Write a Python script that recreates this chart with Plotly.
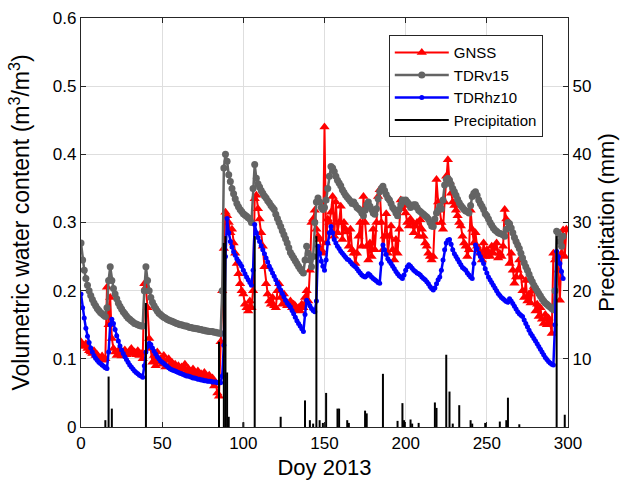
import plotly.graph_objects as go

# ---------------- data ----------------
gnss_vwc = [
    .125, .120, .118, .122, .115, .112, .110, .108, .112, .105,
    .106, .102, .100, .104, .098, .100, .205, .150, .190, .130,
    .115, .110, .105, .112, .108, .104, .110, .113, .106, .108,
    .112, .115, .108, .110, .106, .112, .105, .108, .100, .210,
    .205, .175, .130, .115, .095, .105, .090, .110, .095, .100,
    .092, .105, .088, .098, .100, .090, .095, .087, .092, .085,
    .090, .082, .088, .085, .092, .080, .086, .083, .078, .085,
    .080, .076, .082, .075, .078, .072, .080, .074, .070, .076,
    .068, .072, .060, .065, .050, .045, .125, .200, .262, .315,
    .310, .300, .285, .290, .270, .255, .240, .225, .210, .200,
    .195, .180, .175, .170, .185, .175, .200, .335, .340, .320,
    .305, .285, .265, .235, .210, .195, .185, .180, .190, .178,
    .175, .200, .210, .190, .180, .195, .185, .178, .180, .185,
    .175, .180, .178, .172, .175, .170, .180, .175, .190, .200,
    .185, .230, .300, .305, .318, .290, .280, .275, .260, .255,
    .440, .270, .305, .300, .315, .338, .280, .330, .285, .300,
    .324, .275, .300, .290, .286, .265, .290, .260, .255, .240,
    .255, .280, .300, .265, .338, .300, .265, .245, .270, .250,
    .290, .260, .300, .338, .348, .300, .260, .280, .313, .255,
    .280, .295, .260, .245, .275, .255, .290, .333, .320, .325,
    .314, .300, .295, .305, .300, .285, .295, .300, .280, .304,
    .290, .280, .270, .265, .255, .250, .245, .250, .300, .363,
    .330, .318, .300, .290, .330, .368, .392, .360, .343, .330,
    .325, .318, .310, .300, .295, .280, .270, .265, .250, .260,
    .318, .290, .270, .285, .265, .260, .255, .245, .270, .250,
    .260, .255, .250, .265, .255, .262, .270, .248, .255, .250,
    .265, .319, .305, .300, .240, .255, .230, .211, .220, .230,
    .245, .220, .200, .190, .215, .185, .195, .182, .200, .206,
    .170, .180, .162, .175, .158, .152, .165, .150, .160, .152,
    .137, .255, .245, .250, .230, .186, .255, .289, .250, .290,
]

tdrv15_vwc = [
    .270, .245, .230, .218, .208, .200, .193, .187, .182, .178,
    .174, .171, .168, .166, .164, .162, .175, .215, .235, .215,
    .203, .195, .188, .182, .177, .173, .169, .166, .163, .160,
    .158, .156, .154, .152, .151, .150, .149, .148, .148, .200,
    .235, .215, .200, .190, .183, .178, .174, .170, .167, .165,
    .163, .161, .160, .158, .157, .156, .155, .154, .153, .152,
    .151, .150, .150, .149, .148, .148, .147, .146, .146, .145,
    .145, .144, .144, .143, .143, .142, .142, .141, .141, .140,
    .140, .140, .139, .139, .138, .138, .137, .200, .380, .400,
    .390, .370, .360, .350, .342, .335, .328, .323, .319, .316,
    .313, .311, .309, .307, .305, .300, .350, .385, .365, .357,
    .352, .347, .343, .339, .336, .332, .329, .325, .322, .319,
    .312, .306, .300, .294, .288, .282, .276, .270, .263, .256,
    .252, .248, .244, .240, .236, .232, .229, .226, .245, .265,
    .255, .245, .235, .250, .300, .330, .336, .330, .322, .319,
    .322, .333, .350, .368, .382, .380, .375, .368, .362, .358,
    .354, .348, .344, .340, .337, .334, .331, .328, .330, .326,
    .322, .320, .318, .314, .310, .318, .326, .330, .324, .319,
    .314, .312, .320, .335, .345, .350, .353, .347, .341, .336,
    .333, .328, .322, .319, .314, .310, .319, .326, .333, .331,
    .333, .330, .327, .322, .324, .326, .326, .322, .318, .316,
    .314, .312, .310, .308, .305, .300, .295, .294, .305, .314,
    .318, .324, .320, .333, .355, .363, .365, .362, .356, .350,
    .345, .340, .334, .329, .325, .322, .319, .317, .316, .314,
    .325, .338, .343, .345, .340, .333, .328, .324, .319, .313,
    .310, .305, .300, .296, .292, .289, .287, .285, .284, .283,
    .282, .280, .290, .300, .298, .292, .285, .278, .272, .267,
    .262, .255, .248, .241, .235, .230, .224, .218, .213, .208,
    .204, .200, .196, .192, .188, .185, .182, .180, .178, .176,
    .174, .172, .200, .287, .285, .272, .265, .280,
]

tdrhz10_vwc = [
    .195, .175, .160, .145, .133, .124, .116, .110, .105, .101,
    .098, .095, .093, .091, .089, .087, .086, .110, .150, .158,
    .152, .143, .134, .126, .119, .113, .108, .103, .099, .095,
    .091, .088, .085, .082, .080, .078, .076, .075, .073, .090,
    .110, .118, .123, .121, .116, .111, .107, .103, .100, .097,
    .095, .093, .091, .089, .087, .085, .084, .083, .082, .081,
    .080, .079, .078, .077, .076, .075, .075, .074, .073, .072,
    .072, .071, .070, .070, .069, .069, .068, .068, .067, .067,
    .067, .066, .066, .066, .065, .065, .065, .075, .120, .250,
    .306, .285, .272, .264, .257, .252, .247, .243, .240, .236,
    .230, .225, .220, .216, .212, .208, .230, .297, .285, .278,
    .272, .266, .260, .254, .248, .242, .236, .231, .226, .221,
    .216, .211, .206, .201, .196, .191, .186, .182, .179, .176,
    .171, .166, .161, .156, .152, .148, .144, .140, .165, .186,
    .182, .178, .174, .171, .169, .185, .265, .255, .243, .236,
    .230, .245, .270, .285, .294, .285, .275, .270, .265, .262,
    .258, .255, .252, .249, .246, .245, .242, .239, .237, .235,
    .232, .229, .226, .223, .221, .220, .222, .225, .223, .220,
    .218, .216, .214, .212, .211, .240, .267, .260, .253, .247,
    .243, .240, .236, .232, .228, .225, .222, .220, .218, .223,
    .230, .235, .238, .236, .233, .230, .228, .226, .225, .223,
    .220, .218, .216, .213, .210, .206, .203, .201, .204, .210,
    .216, .220, .230, .245, .260, .270, .274, .275, .268, .260,
    .254, .250, .246, .242, .238, .234, .232, .230, .226, .223,
    .220, .218, .240, .267, .262, .255, .250, .245, .240, .232,
    .226, .220, .216, .212, .208, .204, .200, .196, .193, .190,
    .188, .186, .184, .183, .188, .185, .181, .177, .173, .169,
    .166, .164, .162, .157, .152, .147, .142, .137, .134, .130,
    .126, .122, .118, .114, .110, .106, .102, .099, .096, .094,
    .092, .091, .150, .258, .250, .240, .228, .218,
]

precip_days = [15, 17, 19, 40, 85, 88, 89, 90, 91, 100, 107, 123, 138, 141, 143,
               145, 147, 149, 151, 158, 159, 164, 165, 175, 176, 186, 195, 198,
               199, 203, 204, 208, 218, 219, 225, 227, 229, 233, 240, 241, 249,
               258, 262, 263, 270, 293, 298]
precip_mm = [1.0, 7.4, 2.7, 18.2, 12.5, 27.0, 28.0, 8.0, 1.5, 0.7, 28.0, 1.5, 3.9,
             1.0, 0.5, 28.0, 1.0, 0.6, 5.0, 2.7, 2.7, 1.0, 0.6, 2.4, 2.0, 7.8,
             0.9, 3.5, 1.0, 1.1, 0.5, 0.6, 3.6, 2.8, 10.6, 5.2, 0.5, 3.2, 1.0,
             0.5, 0.6, 0.8, 1.0, 4.3, 0.4, 28.0, 1.8]

gnss_days = list(range(len(gnss_vwc)))
tdrv15_days = list(range(len(tdrv15_vwc)))
tdrhz10_days = list(range(len(tdrhz10_vwc)))

x_ticks = [0, 50, 100, 150, 200, 250, 300]
y_ticks = [0, 0.1, 0.2, 0.3, 0.4, 0.5, 0.6]
y_tick_labels = ["0", "0.1", "0.2", "0.3", "0.4", "0.5", "0.6"]
y2_ticks = [10, 20, 30, 40, 50]

# precipitation drawn as vertical stems from the data arrays
stem_x, stem_y = [], []
for d, v in zip(precip_days, precip_mm):
    stem_x += [d, d, None]
    stem_y += [0, v, None]

# ---------------- figure ----------------
FONT = "Liberation Sans, Arial, sans-serif"

fig = go.Figure()
fig.add_trace(go.Scatter(
    x=gnss_days, y=gnss_vwc, name="GNSS", mode="lines+markers",
    line=dict(color="#ff0000", width=2),
    marker=dict(symbol="triangle-up", size=9, color="#ff0000"),
))
fig.add_trace(go.Scatter(
    x=tdrv15_days, y=tdrv15_vwc, name="TDRv15", mode="lines+markers",
    line=dict(color="#646464", width=2.5),
    marker=dict(symbol="circle", size=7, color="#646464"),
))
fig.add_trace(go.Scatter(
    x=tdrhz10_days, y=tdrhz10_vwc, name="TDRhz10", mode="lines+markers",
    line=dict(color="#0000ff", width=2.5),
    marker=dict(symbol="circle", size=5, color="#0000ff"),
))
fig.add_trace(go.Scatter(
    x=stem_x, y=stem_y, name="Precipitation", yaxis="y2", mode="lines",
    line=dict(color="#000000", width=2),
))

axis_common = dict(
    showline=True, linecolor="#262626", linewidth=1.3,
    ticks="inside", ticklen=5, tickcolor="#262626",
    tickfont=dict(family=FONT, size=17, color="#000000"),
    zeroline=False, automargin=False,
)

fig.update_layout(
    width=631, height=484,
    margin=dict(l=81, r=63, t=18, b=57),
    paper_bgcolor="white", plot_bgcolor="white",
    font=dict(family=FONT, color="#000000"),
    showlegend=True,
    legend=dict(
        x=0.632, y=0.958, xanchor="left", yanchor="top",
        bgcolor="white", bordercolor="#262626", borderwidth=1,
        font=dict(family=FONT, size=15, color="#000000"),
        itemwidth=54, tracegroupgap=0,
    ),
    xaxis=dict(
        range=[0, 300], tickvals=x_ticks, mirror="ticks",
        showgrid=True, gridcolor="#dedede", gridwidth=1,
        title=dict(text="Doy 2013", font=dict(family=FONT, size=22), standoff=8),
        **axis_common,
    ),
    yaxis=dict(
        range=[0, 0.6], tickvals=y_ticks, ticktext=y_tick_labels, mirror=True,
        showgrid=True, gridcolor="#dedede", gridwidth=1,
        title=dict(text="Volumetric water content (m<sup>3</sup>/m<sup>3</sup>)",
                   font=dict(family=FONT, size=23), standoff=16),
        **axis_common,
    ),
    yaxis2=dict(
        range=[0, 60], tickvals=y2_ticks, overlaying="y", side="right",
        showgrid=False,
        title=dict(text="Precipitation (mm)", font=dict(family=FONT, size=22), standoff=8),
        **axis_common,
    ),
)

# remove the browser's default 8px page margin so the figure fills the window exactly
fig.write_html(
    "out.html",
    config={"displayModeBar": False},
    post_script="document.body.style.margin='0';document.body.style.overflow='hidden';",
)
